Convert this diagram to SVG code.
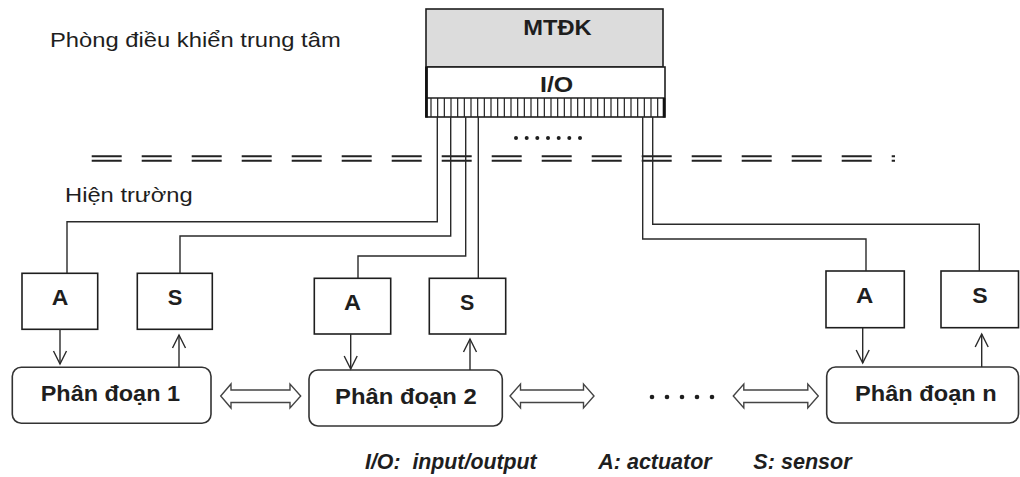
<svg xmlns="http://www.w3.org/2000/svg" width="1020" height="477" viewBox="0 0 1020 477">
<style>
.t{font-family:"Liberation Sans",Arial,sans-serif;fill:#1e1e1e;font-size:21px}
.b{font-weight:bold;font-size:22px}
.bi{font-weight:bold;font-style:italic;white-space:pre;font-size:21.5px}
.box{fill:#fff;stroke:#1e1e1e;stroke-width:1.6}
.seg{fill:#fff;stroke:#333;stroke-width:1.6}
.w{fill:none;stroke:#2a2a2a;stroke-width:1.4}
.ar{fill:none;stroke:#2a2a2a;stroke-width:1.4;marker-end:url(#v)}
.da{fill:#fff;stroke:#444;stroke-width:1.4;stroke-linejoin:miter}
.dl{stroke:#222;stroke-width:1.9;stroke-dasharray:30 20}
.h{stroke:#222;stroke-width:1.2}
</style>
<defs>
<marker id="v" markerUnits="userSpaceOnUse" markerWidth="16" markerHeight="16" viewBox="0 0 16 16" refX="14" refY="8" orient="auto">
<path d="M1,1.5 L14,8 L1,14.5" fill="none" stroke="#2a2a2a" stroke-width="1.4"/>
</marker>
</defs>
<rect width="1020" height="477" fill="#fff"/>

<text class="t" x="50" y="46.7" textLength="290.7" lengthAdjust="spacingAndGlyphs">Phòng điều khiển trung tâm</text>
<text class="t" x="65" y="202.3" textLength="127.7" lengthAdjust="spacingAndGlyphs">Hiện trường</text>

<g id="boundary">
<line class="dl" x1="91.7" y1="156.3" x2="895" y2="156.3"/>
<line class="dl" x1="91.7" y1="160.7" x2="895" y2="160.7"/>
</g>

<g id="mtdk">
<rect x="426" y="9" width="237" height="58" fill="#dcdcdc" stroke="#1e1e1e" stroke-width="1.6"/>
<text class="t b" x="523.3" y="35" textLength="68.4" lengthAdjust="spacingAndGlyphs">MTĐK</text>
</g>
<g id="io">
<rect x="426" y="67" width="239" height="50" fill="#fff" stroke="#1e1e1e" stroke-width="1.6"/>
<line x1="426" y1="98" x2="665" y2="98" stroke="#1e1e1e" stroke-width="1.4"/>
<path class="h" d="M431,98V117M437.67,98V117M444.33,98V117M451,98V117M457.67,98V117M464.33,98V117M471,98V117M477.67,98V117M484.33,98V117M491,98V117M497.67,98V117M504.33,98V117M511,98V117M517.67,98V117M524.33,98V117M531,98V117M537.67,98V117M544.33,98V117M551,98V117M557.67,98V117M564.33,98V117M571,98V117M577.67,98V117M584.33,98V117M591,98V117M597.67,98V117M604.33,98V117M611,98V117M617.67,98V117M624.33,98V117M631,98V117M637.67,98V117M644.33,98V117M651,98V117M657.67,98V117"/>
<line x1="426.5" y1="67" x2="426.5" y2="117.5" stroke="#111" stroke-width="2.8"/>
<line x1="664" y1="98" x2="664" y2="117.5" stroke="#111" stroke-width="2.6"/>
<text class="t b" x="540" y="91.5" textLength="33.3" lengthAdjust="spacingAndGlyphs">I/O</text>
<g fill="#1e1e1e">
<circle cx="516" cy="138" r="2"/><circle cx="526.7" cy="138" r="2"/><circle cx="537.3" cy="138" r="2"/><circle cx="548" cy="138" r="2"/><circle cx="558.7" cy="138" r="2"/><circle cx="569.3" cy="138" r="2"/><circle cx="580" cy="138" r="2"/>
</g>
</g>

<g id="A1"><rect class="box" x="22" y="273.3" width="75.7" height="56"/><text class="t b" x="51.7" y="304.5" textLength="16.6" lengthAdjust="spacingAndGlyphs">A</text></g>
<g id="S1"><rect class="box" x="137.3" y="273.3" width="75" height="56"/><text class="t b" x="167.7" y="304.5" textLength="14.6" lengthAdjust="spacingAndGlyphs">S</text></g>
<g id="seg1"><rect class="seg" x="12.3" y="367.3" width="198.7" height="56" rx="9"/><text class="t b" x="40.7" y="401" textLength="139.3" lengthAdjust="spacingAndGlyphs">Phân đoạn 1</text></g>

<g id="A2"><rect class="box" x="314.3" y="278.3" width="76.4" height="55.7"/><text class="t b" x="344" y="310" textLength="17" lengthAdjust="spacingAndGlyphs">A</text></g>
<g id="S2"><rect class="box" x="429.3" y="278.3" width="76.4" height="55.7"/><text class="t b" x="460" y="310" textLength="14.3" lengthAdjust="spacingAndGlyphs">S</text></g>
<g id="seg2"><rect class="seg" x="309" y="370" width="193.3" height="56" rx="9"/><text class="t b" x="335" y="403.5" textLength="141.7" lengthAdjust="spacingAndGlyphs">Phân đoạn 2</text></g>

<g id="An"><rect class="box" x="826" y="271" width="78.3" height="56.7"/><text class="t b" x="856" y="303" textLength="17.3" lengthAdjust="spacingAndGlyphs">A</text></g>
<g id="Sn"><rect class="box" x="941" y="271" width="77.5" height="56.7"/><text class="t b" x="972.3" y="303" textLength="15.4" lengthAdjust="spacingAndGlyphs">S</text></g>
<g id="segn"><rect class="seg" x="826.7" y="367" width="191.8" height="56" rx="9"/><text class="t b" x="855" y="401" textLength="141.7" lengthAdjust="spacingAndGlyphs">Phân đoạn n</text></g>

<g id="connectors">
<path class="w" d="M437.3,117V221.7H67V273.3"/>
<path class="w" d="M450.7,117V236H180V273.3"/>
<path class="w" d="M465.7,117V256H358V278.3"/>
<path class="w" d="M478.3,117V278.3"/>
<path class="w" d="M642.7,117V239H866V271"/>
<path class="w" d="M652.7,117V224.3H979.3V271"/>
<path class="ar" d="M60,329.3V364"/>
<path class="ar" d="M179,367.3V335"/>
<path class="ar" d="M350.7,334V369"/>
<path class="ar" d="M470,370V339"/>
<path class="ar" d="M862.7,327.7V363"/>
<path class="ar" d="M981.7,367V334"/>
<polygon class="da" points="220.7,396 231,384 231,390 290,390 290,384 300.7,396 290,408 290,402.5 231,402.5 231,408"/>
<polygon class="da" points="510,396 520.5,384 520.5,390 583.5,390 583.5,384 594,396 583.5,408 583.5,402.5 520.5,402.5 520.5,408"/>
<polygon class="da" points="733.3,396 743.8,384 743.8,390 807.8,390 807.8,384 818.3,396 807.8,408 807.8,402.5 743.8,402.5 743.8,408"/>
</g>
<g fill="#1e1e1e">
<circle cx="652" cy="397" r="2.3"/><circle cx="667" cy="397" r="2.3"/><circle cx="682" cy="397" r="2.3"/><circle cx="697" cy="397" r="2.3"/><circle cx="712" cy="397" r="2.3"/>
</g>

<g id="legend">
<text class="t bi" x="365" y="469.3" textLength="171.7" lengthAdjust="spacingAndGlyphs">I/O:  input/output</text>
<text class="t bi" x="598.3" y="469.3" textLength="113.4" lengthAdjust="spacingAndGlyphs">A: actuator</text>
<text class="t bi" x="753.3" y="469.3" textLength="98.4" lengthAdjust="spacingAndGlyphs">S: sensor</text>
</g>
</svg>
